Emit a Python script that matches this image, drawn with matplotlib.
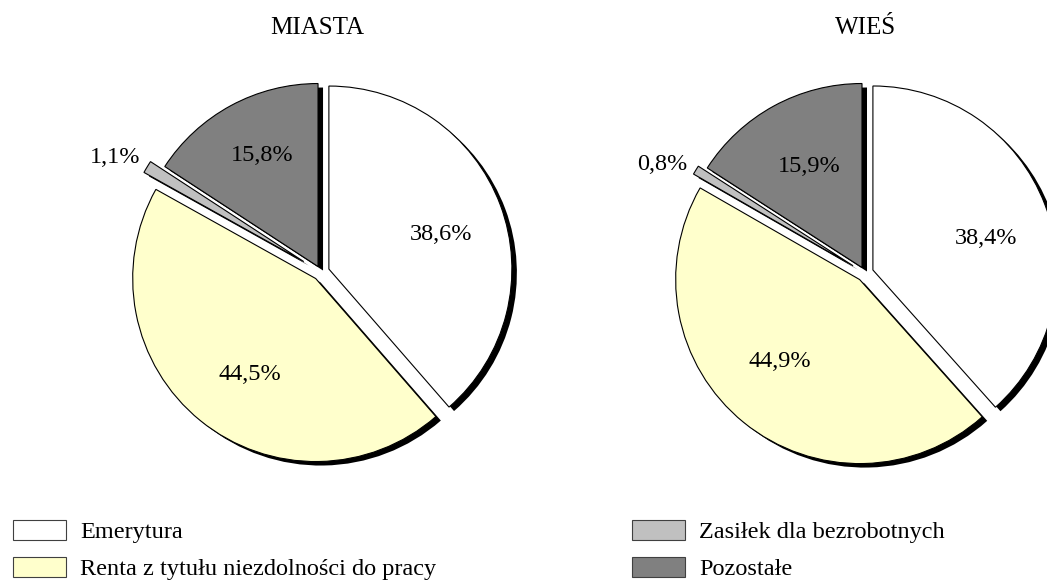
import matplotlib
matplotlib.use("Agg")
import matplotlib.pyplot as plt
from matplotlib.patches import Patch
from matplotlib.transforms import Affine2D
import numpy as np

plt.rcParams['font.family'] = ['Liberation Serif', 'DejaVu Serif']

categories = ["Emerytura", "Renta z tytułu niezdolności do pracy",
              "Zasiłek dla bezrobotnych", "Pozostałe"]
miasta = [38.6, 44.5, 1.1, 15.8]
wies = [38.4, 44.9, 0.8, 15.9]
titles = ["MIASTA", "WIEŚ"]
colors = ["#FFFFFF", "#FFFFCC", "#C0C0C0", "#808080"]

W, H = 1047, 583
fig = plt.figure(figsize=(W / 100, H / 100), dpi=100)
ax = fig.add_axes([0, 0, 1, 1])
ax.set_xlim(0, W)
ax.set_ylim(0, H)
ax.set_aspect('equal')
ax.axis('off')

FS = 17.5

def draw_pie(values, center, radius, explode, label_pos, title, title_xy):
    expl = [e * radius for e in explode]   # pie's explode is in data units
    sh, _ = ax.pie(values, colors=['black'] * 4, startangle=90, counterclock=False,
                   center=center, radius=radius, explode=expl,
                   wedgeprops=dict(linewidth=0), frame=True)
    for w in sh:
        w.set_transform(Affine2D().translate(5, -4) + ax.transData)
    wedges, _ = ax.pie(values, colors=colors, startangle=90, counterclock=False,
                       center=center, radius=radius, explode=expl,
                       wedgeprops=dict(linewidth=0.8, edgecolor='black'), frame=True)
    for w, v, (d, da) in zip(wedges, values, label_pos):
        th = np.deg2rad((w.theta1 + w.theta2) / 2 + da)
        cx, cy = w.center
        x = cx + d * radius * np.cos(th)
        y = cy + d * radius * np.sin(th) - 2.4
        ax.text(x, y, f"{v:.1f}%".replace('.', ','), ha='center', va='center',
                fontsize=FS, color='black')
    ax.text(title_xy[0], title_xy[1], title, ha='center', va='center', fontsize=18)

draw_pie(miasta, (321, 311), 183, [0.046, 0.046, 0.11, 0.034],
         [(0.645, -2.2), (0.625, 3.9), (1.185, 1.6), (0.69, -2.1)],
         titles[0], (317, 555))
draw_pie(wies, (865, 310), 184, [0.046, 0.046, 0.076, 0.034],
         [(0.642, -4.2), (0.611, -6.0), (1.18, 2.8), (0.632, -1.5)],
         titles[1], (866, 555))

ax.set_xlim(0, W)
ax.set_ylim(0, H)
ax.axis('off')

handles = [Patch(facecolor=c, edgecolor='#404040', linewidth=0.8) for c in colors]
leg_kw = dict(frameon=False, fontsize=FS, handlelength=2.2, handleheight=0.89,
              handletextpad=0.55, labelspacing=0.55, borderpad=0, borderaxespad=0)
leg1 = ax.legend(handles[:2], categories[:2], loc='upper left',
                 bbox_to_anchor=(13 / W, 1 - 520 / H), **leg_kw)
ax.add_artist(leg1)
leg2 = ax.legend(handles[2:], categories[2:], loc='upper left',
                 bbox_to_anchor=(632 / W, 1 - 520 / H), **leg_kw)

fig.savefig("out.png", dpi=100)
